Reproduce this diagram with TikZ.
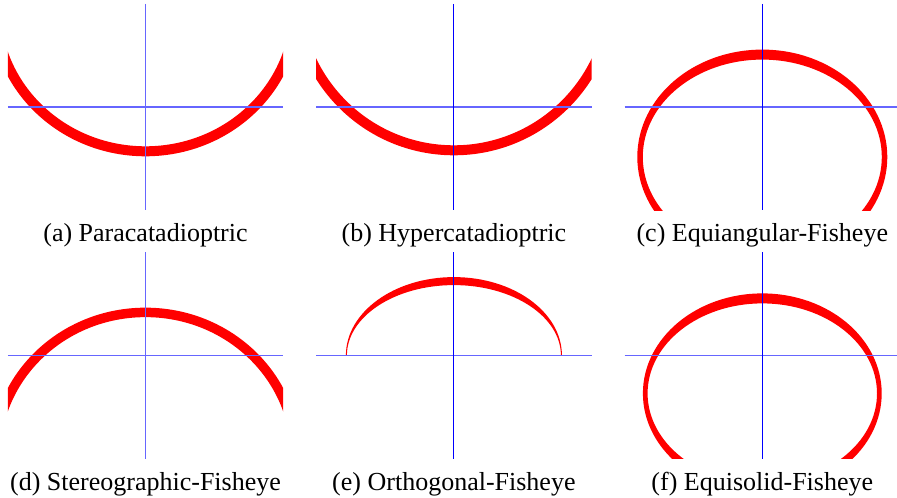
\documentclass[tikz,border=0pt]{standalone}
\usepackage{fontspec}
\setmainfont{Liberation Serif}
\newfontfamily\capfont{Liberation Serif}
\usetikzlibrary{positioning}

\begin{document}
\begin{tikzpicture}[
    x=1pt, y=1pt,
    node distance=42pt and 33pt,
    panel/.style={rectangle, fill=white, minimum width=275pt, minimum height=206pt, inner sep=0pt},
    caption/.style={inner sep=0pt, text height=18pt, text depth=6pt, font=\capfont\fontsize{26}{30}\selectfont},
    axis/.style={blue, line width=1pt},
    axisfaint/.style={blue!60, line width=1.3pt},
    ring/.style={red, line width=10pt},
    band/.style={fill=red, even odd rule}
]
    \useasboundingbox[fill=white] (0,0) rectangle (897,498);

    % Image panels
    \node[panel] (pa) at (145.5,391) {};
    \node[panel] (pb) [right=of pa] {};
    \node[panel] (pc) [right=of pb] {};
    \node[panel] (pd) [below=of pa] {};
    \node[panel] (pe) [right=of pd] {};
    \node[panel] (pf) [right=of pe] {};

    % Captions
    \node[caption] (ca) [below=13.5pt of pa] {(a) Paracatadioptric};
    \node[caption] (cb) [below=13.5pt of pb] {(b) Hypercatadioptric};
    \node[caption] (cc) [below=13.5pt of pc] {(c) Equiangular-Fisheye};
    \node[caption] (cd) [below=13.5pt of pd] {(d) Stereographic-Fisheye};
    \node[caption] (ce) [below=13.5pt of pe] {(e) Orthogonal-Fisheye};
    \node[caption] (cf) [below=13.5pt of pf] {(f) Equisolid-Fisheye};

    % Projected lines
    \begin{scope}
        \clip (pa.south west) rectangle (pa.north east);
        \draw[ring] ([yshift=98.7pt]pa.center) ellipse [x radius=150, y radius=143];
    \end{scope}
    \begin{scope}
        \clip (pb.south west) rectangle (pb.north east);
        \draw[ring] ([yshift=114.3pt]pb.center) ellipse [x radius=157.6, y radius=157.6];
    \end{scope}
    \begin{scope}
        \clip (pc.south west) rectangle (pc.north east);
        \path[band] ([yshift=-50pt]pc.center) ellipse [x radius=125, y radius=107.4]
                    ([yshift=-50pt]pc.center) ellipse [x radius=119.5, y radius=97.4];
    \end{scope}
    \begin{scope}
        \clip (pd.south west) rectangle (pd.north east);
        \draw[ring, line width=9.5pt] ([yshift=-100.3pt]pd.center) ellipse [x radius=150, y radius=143.3];
    \end{scope}
    \begin{scope}
        \clip (pe.south west) rectangle (pe.north east);
        \path[band] ([xshift=108pt]pe.center) arc [start angle=0, end angle=180, x radius=108, y radius=78.3]
                    -- ([xshift=-107pt]pe.center) arc [start angle=180, end angle=0, x radius=107, y radius=70.3]
                    -- cycle;
    \end{scope}
    \begin{scope}
        \clip (pf.south west) rectangle (pf.north east);
        \path[band] ([yshift=-38pt]pf.center) ellipse [x radius=119.4, y radius=100]
                    ([yshift=-38pt]pf.center) ellipse [x radius=114.7, y radius=90];
    \end{scope}

    % Crosshairs
    \foreach \p in {pa,pb,pc,pd,pe,pf}
        \draw[axisfaint] (\p.west) -- (\p.east);
    \foreach \p in {pa,pd}
        \draw[axisfaint] (\p.north) -- (\p.south);
    \foreach \p in {pb,pc,pe,pf}
        \draw[axis] (\p.north) -- (\p.south);

\end{tikzpicture}
\end{document}
